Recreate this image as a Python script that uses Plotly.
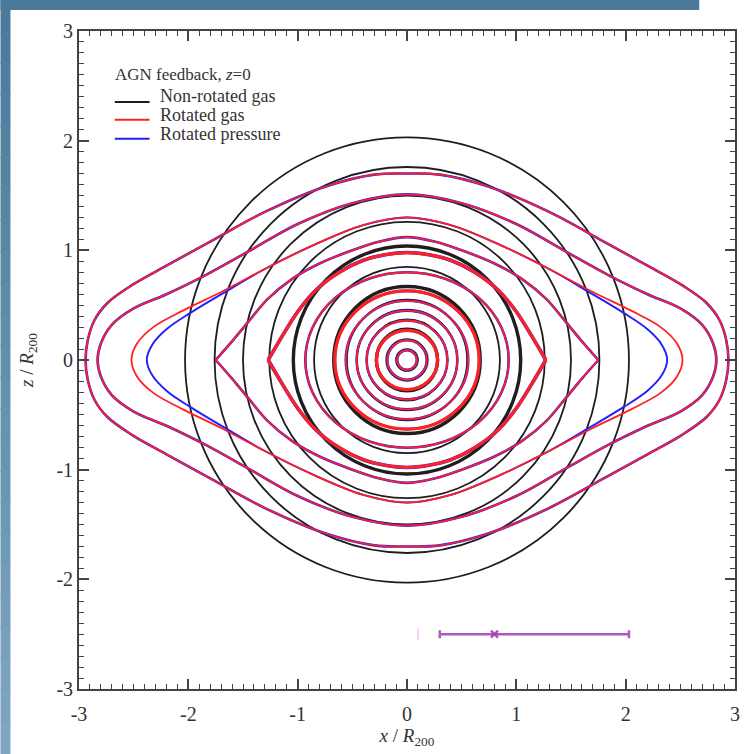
import plotly.graph_objects as go

# ---- contour data (units of R200) ----
# Non-rotated gas: near-circular density contours (radii)
black_thin_r = [0.10, 0.19, 0.37, 0.46, 0.55, 0.85, 1.26, 1.50, 1.76, 2.03]
black_thick_r = [0.28, 0.67, 1.04]

# Rotated gas: inner near-circular contours (horizontal / vertical semi-axes)
red_thin_a = [0.09, 0.18, 0.37, 0.46, 0.56, 0.93]
red_thin_b = [0.09, 0.18, 0.36, 0.45, 0.54, 0.80]
red_thick_a = [0.28, 0.66]
red_thick_b = [0.27, 0.63]

# Rotated gas: outer flattened contours, first-quadrant points (tip -> pole)
lens1_x = [2.94, 2.92, 2.86, 2.74, 2.52, 2.20, 1.80, 1.30, 0.75, 0.30, 0.00]
lens1_z = [0.00, 0.18, 0.36, 0.52, 0.68, 0.86, 1.08, 1.35, 1.58, 1.69, 1.70]
lens2_x = [2.83, 2.80, 2.70, 2.50, 2.20, 1.85, 1.45, 1.00, 0.50, 0.00]
lens2_z = [0.00, 0.15, 0.32, 0.47, 0.60, 0.77, 0.99, 1.24, 1.43, 1.51]
lens3_x = [2.52, 2.47, 2.32, 2.05, 1.70, 1.30, 0.85, 0.40, 0.00]
lens3_z = [0.00, 0.15, 0.30, 0.45, 0.62, 0.83, 1.05, 1.23, 1.30]
# pointed contours
lens4_x = [1.75, 1.60, 1.45, 1.28, 1.05, 0.80, 0.50, 0.25, 0.00]
lens4_z = [0.00, 0.17, 0.35, 0.55, 0.74, 0.88, 1.00, 1.08, 1.12]
lens5_x = [1.27, 1.14, 1.00, 0.83, 0.62, 0.40, 0.20, 0.00]
lens5_z = [0.00, 0.22, 0.44, 0.64, 0.80, 0.91, 0.96, 0.98]

# Rotated pressure: contour that separates from the gas one near the tip
plens3_x = [2.38, 2.33, 2.20, 1.98, 1.68, 1.30, 0.85, 0.40, 0.00]
plens3_z = [0.00, 0.14, 0.28, 0.43, 0.61, 0.83, 1.05, 1.23, 1.30]

# Error bar shown below the contours
bar_x = [0.80]
bar_z = [-2.50]
bar_minus = [0.50]
bar_plus = [1.23]
faint_x = [0.10]
faint_z = [-2.50]

tick_vals = [-3, -2, -1, 0, 1, 2, 3]
tick_text = ["-3", "-2", "-1", "0", "1", "2", "3"]

BLACK = "#1e1e1e"
RED = "#ff2020"
BLUE = "#2020ff"
PURPLE = "rgba(160,60,180,0.85)"
SERIF = "Liberation Serif"


def closed_from_pole(qx, qz):
    """Mirror a first-quadrant curve into a closed loop starting at the upper pole."""
    rx, rz = list(reversed(qx)), list(reversed(qz))          # pole -> tip
    xs = rx + qx[1:]                                          # upper right, lower right
    zs = rz + [-v for v in qz[1:]]
    xs += [-v for v in rx[1:]] + [-v for v in qx[1:]]         # lower left, upper left
    zs += [-v for v in rz[1:]] + qz[1:]
    return xs, zs


def halves(qx, qz):
    """Upper and lower halves (tip -> tip) so the tips stay pointed."""
    ux = list(qx) + [-v for v in reversed(qx[:-1])]
    uz = list(qz) + list(reversed(qz[:-1]))
    return (ux, uz), (ux, [-v for v in uz])


fig = go.Figure()
shapes = []

# background bands of the page
n_band = 24
for i in range(n_band):
    t = i / (n_band - 1)
    r = int(75 + t * (125 - 75))
    g = int(122 + t * (166 - 122))
    b = int(154 + t * (194 - 154))
    step = 1.144 / n_band
    y_top = 1.047 - i * step
    shapes.append(dict(type="rect", xref="paper", yref="paper",
                       x0=-0.1197, x1=-0.1045, y0=y_top - step - 0.002, y1=y_top,
                       fillcolor=f"rgb({r},{g},{b})", line=dict(width=0), layer="below"))
shapes.append(dict(type="rect", xref="paper", yref="paper",
                   x0=-0.1197, x1=0.9455, y0=1.0319, y1=1.047,
                   fillcolor="rgb(75,122,154)", line=dict(width=0), layer="below"))

# non-rotated gas circles
for r in black_thin_r:
    shapes.append(dict(type="circle", xref="x", yref="y", x0=-r, x1=r, y0=-r, y1=r,
                       line=dict(color=BLACK, width=1.8), layer="below"))
for r in black_thick_r:
    shapes.append(dict(type="circle", xref="x", yref="y", x0=-r, x1=r, y0=-r, y1=r,
                       line=dict(color=BLACK, width=3.4), layer="below"))

# rotated pressure, inner (under the gas contours)
for a, b in zip(red_thin_a + red_thick_a, red_thin_b + red_thick_b):
    shapes.append(dict(type="circle", xref="x", yref="y", x0=-a, x1=a, y0=-b, y1=b,
                       line=dict(color=BLUE, width=2.6), layer="below"))
# rotated gas, inner
for a, b in zip(red_thin_a, red_thin_b):
    shapes.append(dict(type="circle", xref="x", yref="y", x0=-a, x1=a, y0=-b, y1=b,
                       line=dict(color=RED, width=1.8), layer="below"))
for a, b in zip(red_thick_a, red_thick_b):
    shapes.append(dict(type="circle", xref="x", yref="y", x0=-a, x1=a, y0=-b, y1=b,
                       line=dict(color=RED, width=3.2), layer="below"))


def add_loop(qx, qz, color, width):
    xs, zs = closed_from_pole(qx, qz)
    fig.add_trace(go.Scatter(x=xs, y=zs, mode="lines", showlegend=False, hoverinfo="skip",
                             line=dict(color=color, width=width, shape="spline", smoothing=1.0)))


def add_pointed(qx, qz, color, width):
    for hx, hz in halves(qx, qz):
        fig.add_trace(go.Scatter(x=hx, y=hz, mode="lines", showlegend=False, hoverinfo="skip",
                                 line=dict(color=color, width=width, shape="spline", smoothing=0.8)))


# outer flattened contours: pressure first, gas on top
add_loop(lens1_x, lens1_z, BLUE, 2.6)
add_loop(lens2_x, lens2_z, BLUE, 2.6)
add_loop(plens3_x, plens3_z, BLUE, 1.9)
add_pointed(lens4_x, lens4_z, BLUE, 2.6)
add_pointed(lens5_x, lens5_z, BLUE, 3.6)

add_loop(lens1_x, lens1_z, RED, 1.8)
add_loop(lens2_x, lens2_z, RED, 1.8)
add_loop(lens3_x, lens3_z, RED, 1.8)
add_pointed(lens4_x, lens4_z, RED, 1.8)
add_pointed(lens5_x, lens5_z, RED, 3.2)

# error bar
fig.add_trace(go.Scatter(x=faint_x, y=faint_z, mode="markers", showlegend=False,
                         marker=dict(symbol="line-ns", size=8,
                                     line=dict(color="rgba(240,200,240,0.8)", width=2))))
fig.add_trace(go.Scatter(x=bar_x, y=bar_z, mode="markers", showlegend=False,
                         marker=dict(symbol="x-thin", size=7, line=dict(color=PURPLE, width=2.5)),
                         error_x=dict(type="data", symmetric=False, array=bar_plus,
                                      arrayminus=bar_minus, color=PURPLE, thickness=2.5, width=4)))


# legend (drawn in paper coordinates)
def px(xp):
    return (xp - 79) / 660


def py(yp):
    return (690 - yp) / 659


annotations = [dict(text="AGN feedback, <i>z</i>=0", x=px(113), y=py(75), xref="paper", yref="paper",
                    xanchor="left", yanchor="middle", showarrow=False,
                    font=dict(family=SERIF, size=17, color="#333"))]
legend_items = [("Non-rotated gas", BLACK, 102, 96), ("Rotated gas", RED, 120, 115),
                ("Rotated pressure", BLUE, 139, 134)]
for label, col, ly, ty in legend_items:
    shapes.append(dict(type="line", xref="paper", yref="paper", x0=px(115), x1=px(150),
                       y0=py(ly), y1=py(ly), line=dict(color=col, width=2)))
    annotations.append(dict(text=label, x=px(158), y=py(ty), xref="paper", yref="paper",
                            xanchor="left", yanchor="middle", showarrow=False,
                            font=dict(family=SERIF, size=18, color="#333")))

axis_common = dict(range=[-3, 3], tickvals=tick_vals, ticktext=tick_text, ticks="inside",
                   ticklen=10, tickwidth=1.6, tickcolor="#444", mirror="allticks",
                   showline=True, linecolor="#444", linewidth=1.8, showgrid=False,
                   zeroline=False, tickfont=dict(family=SERIF, size=20, color="#333"),
                   minor=dict(dtick=0.1, ticks="inside", ticklen=5, tickwidth=1.1, tickcolor="#444"))

fig.update_layout(
    width=752, height=754,
    margin=dict(l=79, r=13, t=31, b=64),
    paper_bgcolor="white", plot_bgcolor="white",
    shapes=shapes, annotations=annotations,
    xaxis=dict(**axis_common, ticklabelstandoff=6,
               title=dict(text="<i>x</i> / <i>R</i><sub>200</sub>",
                          font=dict(family=SERIF, size=19, color="#333"), standoff=4)),
    yaxis=dict(**axis_common,
               title=dict(text="<i>z</i> / <i>R</i><sub>200</sub>",
                          font=dict(family=SERIF, size=19, color="#333"), standoff=18)),
)

fig.write_html("out.html")
